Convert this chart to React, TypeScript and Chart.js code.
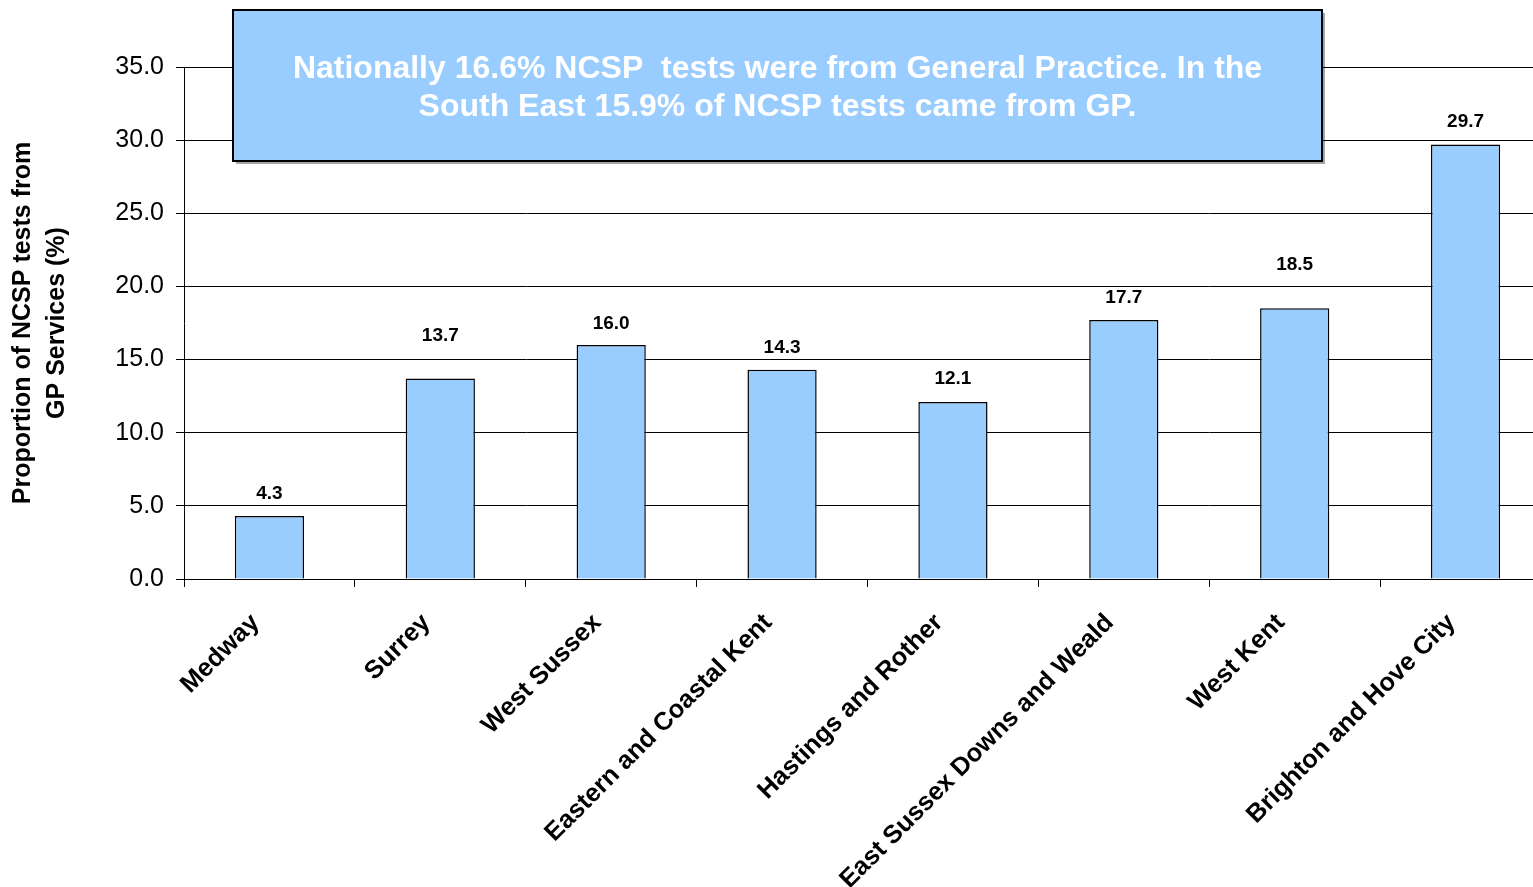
import React, { useEffect, useRef } from "react";
import { Chart, registerables } from "chart.js";

Chart.register(...registerables);

const categories = [
  "Medway",
  "Surrey",
  "West Sussex",
  "Eastern and Coastal Kent",
  "Hastings and Rother",
  "East Sussex Downs and Weald",
  "West Kent",
  "Brighton and Hove City",
];
const gpShare = [4.3, 13.7, 16.0, 14.3, 12.1, 17.7, 18.5, 29.7];
const yTicks = [0, 5, 10, 15, 20, 25, 30, 35];
const yTitle = ["Proportion of NCSP tests from", "GP Services (%)"];
const noteLines = [
  "Nationally 16.6% NCSP  tests were from General Practice. In the",
  "South East 15.9% of NCSP tests came from GP.",
];

// styling (label lift above bar top, px)
const labelLift = [22, 43, 21, 22, 23, 22, 44, 23];

const FAMILY = '"Liberation Sans", Arial, Helvetica, sans-serif';
const BAR_FILL = "#99CCFF";

const overlayPlugin = {
  id: "overlay",
  afterDatasetsDraw(chart: any) {
    const ctx = chart.ctx;
    const meta = chart.getDatasetMeta(0);
    ctx.save();
    ctx.font = `bold 19px ${FAMILY}`;
    ctx.fillStyle = "#000";
    ctx.textAlign = "center";
    ctx.textBaseline = "middle";
    meta.data.forEach((bar: any, i: number) => {
      ctx.fillText(gpShare[i].toFixed(1), bar.x, bar.y - labelLift[i]);
    });
    ctx.restore();
  },
  afterDraw(chart: any) {
    const ctx = chart.ctx;
    const x0 = 233, y0 = 10, x1 = 1322, y1 = 161;
    ctx.save();
    ctx.fillStyle = "rgba(0,0,0,0.35)";
    ctx.fillRect(x0 + 3, y0 + 3, x1 - x0, y1 - y0);
    ctx.fillStyle = BAR_FILL;
    ctx.fillRect(x0, y0, x1 - x0, y1 - y0);
    ctx.strokeStyle = "#000";
    ctx.lineWidth = 2;
    ctx.strokeRect(x0, y0, x1 - x0, y1 - y0);
    ctx.fillStyle = "#fff";
    ctx.font = `bold 32px ${FAMILY}`;
    ctx.textAlign = "center";
    ctx.textBaseline = "middle";
    const cx = (x0 + x1) / 2;
    ctx.fillText(noteLines[0], cx, 69);
    ctx.fillText(noteLines[1], cx, 107);
    ctx.restore();
  },
};

export default function App() {
  const canvasRef = useRef<HTMLCanvasElement | null>(null);

  useEffect(() => {
    document.documentElement.style.overflow = "hidden";
    document.body.style.overflow = "hidden";
    const canvas = canvasRef.current;
    if (!canvas) return;
    const chart = new Chart(canvas, {
      type: "bar",
      data: {
        labels: categories,
        datasets: [
          {
            data: gpShare,
            backgroundColor: BAR_FILL,
            borderColor: "#000",
            borderWidth: 1.5,
            categoryPercentage: 1,
            barPercentage: 0.405,
          },
        ],
      },
      plugins: [overlayPlugin],
      options: {
        animation: false,
        responsive: true,
        maintainAspectRatio: false,
        layout: { padding: { top: 67, left: 0, right: 0, bottom: 0 } },
        plugins: {
          legend: { display: false },
          tooltip: { enabled: false },
          title: { display: false },
        },
        scales: {
          x: {
            grid: {
              offset: true,
              drawOnChartArea: false,
              drawTicks: true,
              tickLength: 8,
              color: "#000",
              lineWidth: 1,
            },
            border: { color: "#000", width: 1 },
            ticks: {
              maxRotation: 45,
              minRotation: 45,
              autoSkip: false,
              labelOffset: -14,
              padding: 21,
              color: "#000",
              font: { family: FAMILY, size: 25.5, weight: "bold" },
            },
            afterFit: (s: any) => {
              s.height = 308;
            },
          },
          y: {
            min: 0,
            max: 35,
            afterBuildTicks: (s: any) => {
              s.ticks = yTicks.map((v) => ({ value: v }));
            },
            grid: {
              color: "#000",
              lineWidth: 1,
              drawTicks: true,
              tickLength: 8,
            },
            border: { color: "#000", width: 1 },
            ticks: {
              padding: 12,
              color: "#000",
              font: { family: FAMILY, size: 25 },
              callback: (v: any) => Number(v).toFixed(1),
            },
            title: {
              display: true,
              text: yTitle,
              color: "#000",
              font: { family: FAMILY, size: 25, weight: "bold", lineHeight: 1.36 },
              padding: { top: 6, bottom: 0 },
            },
            afterFit: (s: any) => {
              s.width = 184;
            },
          },
        },
      },
    } as any);
    return () => chart.destroy();
  }, []);

  return (
    <div
      style={{
        position: "absolute",
        left: 0,
        top: 0,
        width: "1551px",
        height: "887px",
        background: "#fff",
      }}
    >
      <canvas ref={canvasRef} />
    </div>
  );
}
